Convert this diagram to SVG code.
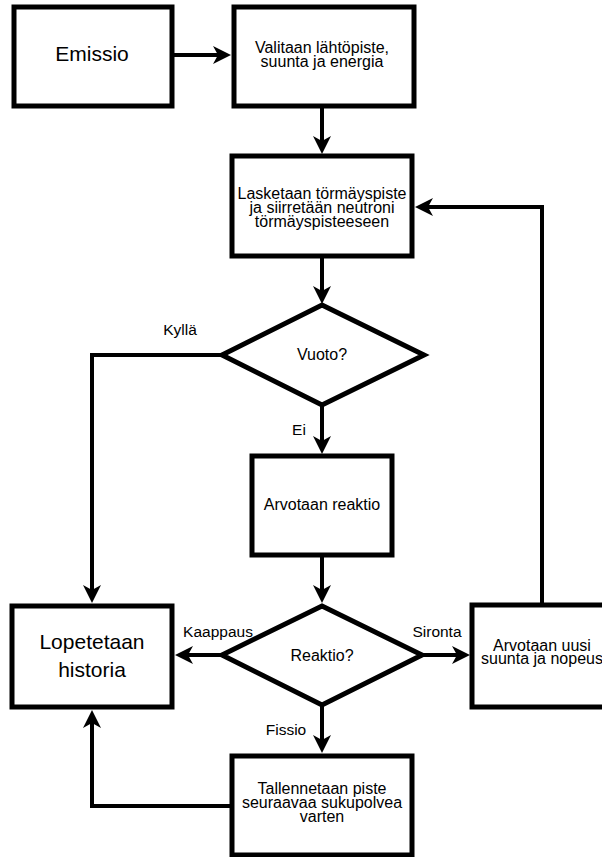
<svg xmlns="http://www.w3.org/2000/svg" width="602" height="857" viewBox="0 0 602 857">
<defs>
<marker id="arr" markerUnits="userSpaceOnUse" markerWidth="18" markerHeight="18" viewBox="0 0 18 18" refX="5" refY="9" orient="auto">
<path d="M0,0 L18,9 L0,18 L5,9 Z" fill="#000"/>
</marker>
</defs>
<style>
.box{fill:#fff;stroke:#000;stroke-width:5}
.t{font-family:"Liberation Sans",Arial,sans-serif;font-size:16px;fill:#000;text-anchor:middle}
.big{font-size:21px}
.lbl{font-family:"Liberation Sans",Arial,sans-serif;font-size:15.5px;fill:#000;text-anchor:middle}
.c{fill:none;stroke:#000;stroke-width:4;marker-end:url(#arr)}
</style>
<rect width="602" height="857" fill="#fff"/>
<g id="connectors">
<path class="c" d="M172,55 L218,55"/>
<path class="c" d="M322,106 L322,141"/>
<path class="c" d="M322,256 L322,291"/>
<path class="c" d="M322,405 L322,441"/>
<path class="c" d="M322,555 L322,590"/>
<path class="c" d="M322,705 L322,740"/>
<path class="c" d="M223,655 L188,655"/>
<path class="c" d="M422,655 L457,655"/>
<path class="c" d="M542,605 L542,207 L428,207"/>
<path class="c" d="M223,355 L92,355 L92,590"/>
<path class="c" d="M232,806 L92,806 L92,723"/>
</g>
<g id="labels">
<text class="lbl" x="180" y="335">Kyllä</text>
<text class="lbl" x="299" y="435">Ei</text>
<text class="lbl" x="218" y="637">Kaappaus</text>
<text class="lbl" x="437" y="637">Sironta</text>
<text class="lbl" x="286" y="735">Fissio</text>
</g>
<g id="emissio">
<rect class="box" x="14" y="7" width="158" height="99"/>
<text class="t big" x="92" y="61">Emissio</text>
</g>
<g id="valitaan">
<rect class="box" x="234" y="7" width="180" height="99"/>
<text class="t" x="322" y="53">Valitaan lähtöpiste,</text>
<text class="t" x="322" y="67">suunta ja energia</text>
</g>
<g id="lasketaan">
<rect class="box" x="232" y="156" width="180" height="100"/>
<text class="t" x="322" y="199">Lasketaan törmäyspiste</text>
<text class="t" x="322" y="213">ja siirretään neutroni</text>
<text class="t" x="322" y="227">törmäyspisteeseen</text>
</g>
<g id="vuoto">
<polygon class="box" points="322,305 424,355 322,405 222,355"/>
<text class="t" x="322" y="360">Vuoto?</text>
</g>
<g id="arvotaan-reaktio">
<rect class="box" x="252" y="456" width="140" height="99"/>
<text class="t" x="322" y="510">Arvotaan reaktio</text>
</g>
<g id="reaktio">
<polygon class="box" points="322,606 422,655 322,705 222,655"/>
<text class="t" x="322" y="661">Reaktio?</text>
</g>
<g id="lopetetaan">
<rect class="box" x="12" y="606" width="160" height="101"/>
<text class="t big" x="92" y="649">Lopetetaan</text>
<text class="t big" x="92" y="677">historia</text>
</g>
<g id="arvotaan-uusi">
<rect class="box" x="472" y="605" width="140" height="102"/>
<text class="t" x="542" y="651">Arvotaan uusi</text>
<text class="t" x="542" y="664">suunta ja nopeus</text>
</g>
<g id="tallennetaan">
<rect class="box" x="232" y="756" width="180" height="99"/>
<text class="t" x="322" y="794">Tallennetaan piste</text>
<text class="t" x="322" y="808">seuraavaa sukupolvea</text>
<text class="t" x="322" y="822">varten</text>
</g>
</svg>
